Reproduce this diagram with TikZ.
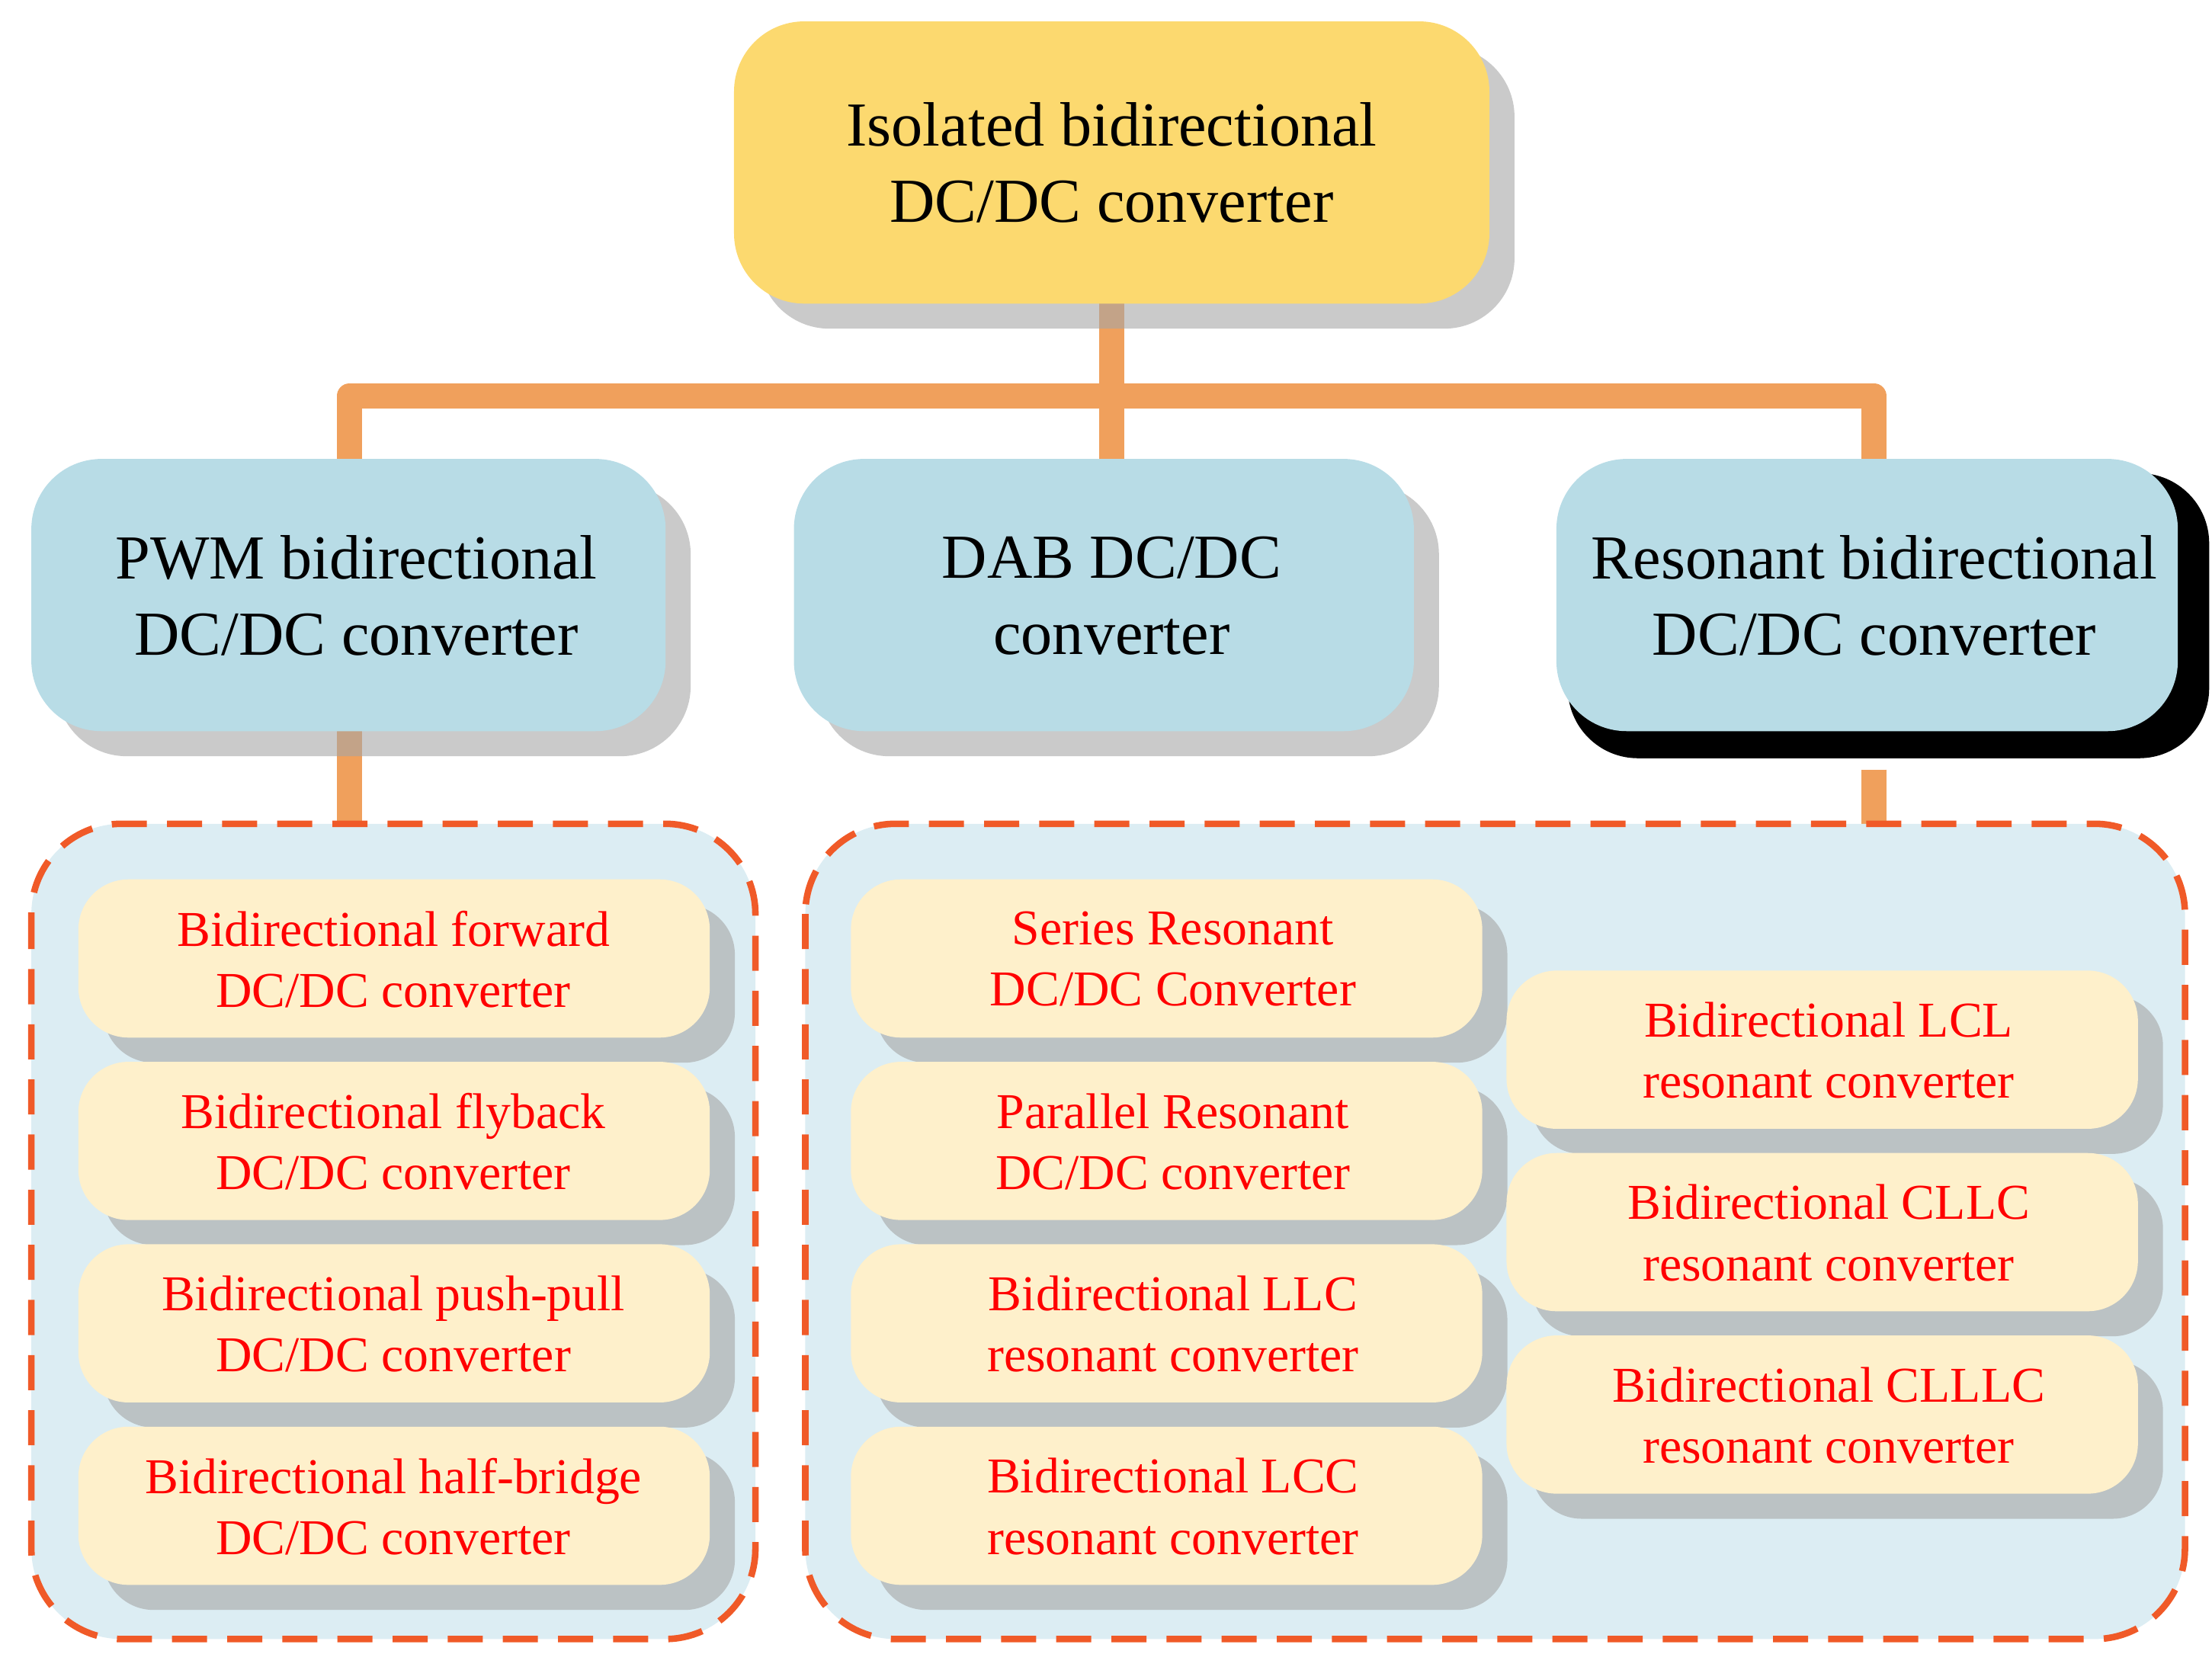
\documentclass[tikz,border=0pt]{standalone}
\usepackage{fontspec}
\setmainfont{Liberation Serif}
\usetikzlibrary{shadows}
\definecolor{ytop}{HTML}{FCD96F}
\definecolor{bmid}{HTML}{B8DCE6}
\definecolor{leaf}{HTML}{FEF0CB}
\definecolor{cont}{HTML}{DCEDF3}
\definecolor{conn}{HTML}{F0A05C}
\definecolor{dash}{HTML}{F05A28}
\begin{document}
\begin{tikzpicture}[x=0.01cm,y=-0.01cm,
  shd/.style={drop shadow={shadow xshift=5pt,shadow yshift=-5pt,fill=black!35,opacity=0.6}},
  top/.style={rounded corners=14pt,fill=ytop,shd,align=center,font=\fontsize{12.5}{15.2}\selectfont,inner sep=0pt},
  mid/.style={rounded corners=14pt,fill=bmid,shd,align=center,font=\fontsize{12.5}{15.2}\selectfont,inner sep=0pt},
  lf/.style={rounded corners=10pt,fill=leaf,shd,align=center,text=red,font=\fontsize{10}{12.2}\selectfont,inner sep=0pt},
  ct/.style={rounded corners=18pt,fill=cont,draw=dash,line width=1.3pt,dash pattern=on 7pt off 4pt},
  cn/.style={draw=conn,line width=5pt}]
\useasboundingbox (0,0) rectangle (1552,1160);
% connectors
\coordinate (hl) at (245,278); \coordinate (hr) at (1315,278);
\draw[cn,line join=round] (245,330) -- (hl) -- (hr) -- (1315,330);
\draw[cn] (780,200) -- (780,330);
\draw[cn] (245,500) -- (245,585);
\draw[cn] (1315,540) -- (1315,585);
% containers
\path[ct] (22,578) rectangle (530,1150);
\path[ct] (565,578) rectangle (1533,1150);
% top
\path[top] (515,15) rectangle (1045,213);
\node[align=center,font=\fontsize{12.5}{15.2}\selectfont] (t) at (780,114) {Isolated bidirectional\\DC/DC converter};
% mid
\path[mid] (22,322) rectangle (467,513);
\node[align=center,font=\fontsize{12.5}{15.2}\selectfont] (p) at (250,418) {PWM bidirectional\\DC/DC converter};
\path[mid] (557,322) rectangle (992,513);
\node[align=center,font=\fontsize{12.5}{15.2}\selectfont] (d) at (780,418) {DAB DC/DC\\converter};
\fill[black,rounded corners=14pt] (1100,332) rectangle (1550,532);
\path[rounded corners=14pt,fill=bmid] (1092,322) rectangle (1528,513);
\node[align=center,font=\fontsize{12.5}{15.2}\selectfont] (r) at (1315,418) {Resonant bidirectional\\DC/DC converter};
% leaves
\foreach \y/\t [count=\i] in {617/{Bidirectional forward\\DC/DC converter},745/{Bidirectional flyback\\DC/DC converter},873/{Bidirectional push-pull\\DC/DC converter},1001/{Bidirectional half-bridge\\DC/DC converter}}{
  \path[lf] (55,\y) rectangle (498,\y+111);
  \node[align=center,text=red,font=\fontsize{10}{12.2}\selectfont] (a\i) at (276,\y+56) {\t};}
\foreach \y/\t [count=\i] in {617/{Series Resonant\\DC/DC Converter},745/{Parallel Resonant\\DC/DC converter},873/{Bidirectional LLC\\resonant converter},1001/{Bidirectional LCC\\resonant converter}}{
  \path[lf] (597,\y) rectangle (1040,\y+111);
  \node[align=center,text=red,font=\fontsize{10}{12.2}\selectfont] (b\i) at (823,\y+56) {\t};}
\foreach \y/\t [count=\i] in {681/{Bidirectional LCL\\resonant converter},809/{Bidirectional CLLC\\resonant converter},937/{Bidirectional CLLLC\\resonant converter}}{
  \path[lf] (1057,\y) rectangle (1500,\y+111);
  \node[align=center,text=red,font=\fontsize{10}{12.2}\selectfont] (c\i) at (1283,\y+56) {\t};}
\end{tikzpicture}
\end{document}
